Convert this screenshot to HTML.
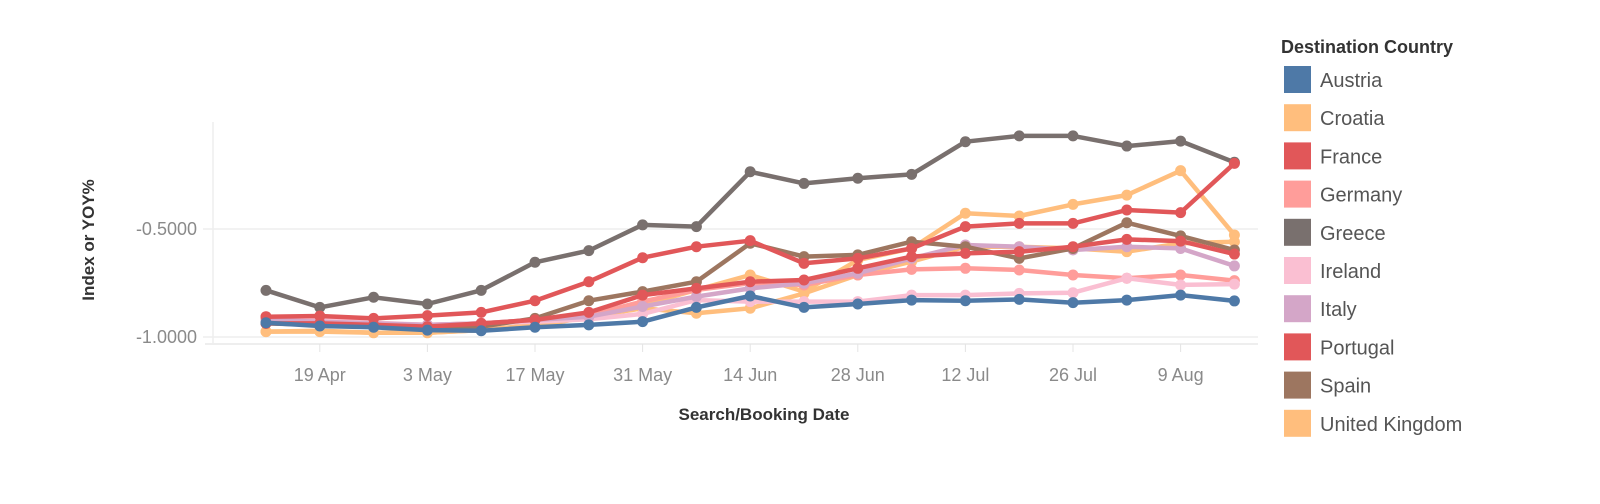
<!DOCTYPE html>
<html><head><meta charset="utf-8">
<style>
body{margin:0;background:#fff;width:1600px;height:504px;overflow:hidden;font-family:"Liberation Sans",sans-serif}
svg{display:block}
</style></head>
<body>
<svg id="chart" width="1600" height="504">
 <g id="grid"></g>
 <g id="axes"></g>
 <g id="series"></g>
 <g id="legend"></g>
</svg>
<script>
const dates = ["12 Apr","19 Apr","26 Apr","3 May","10 May","17 May","24 May","31 May","7 Jun","14 Jun","21 Jun","28 Jun","5 Jul","12 Jul","19 Jul","26 Jul","2 Aug","9 Aug","16 Aug"];
const tickLabels = ["19 Apr","3 May","17 May","31 May","14 Jun","28 Jun","12 Jul","26 Jul","9 Aug"];
const yTicks = [-0.5, -1.0];
const countries = ["Austria","Croatia","France","Germany","Greece","Ireland","Italy","Portugal","Spain","United Kingdom"];
const colors = ["#4e79a7","#ffbe7d","#e15759","#ff9d9a","#79706e","#fabfd2","#d4a6c8","#e15759","#9d7660","#ffbe7d"];
const austria = [-0.934,-0.949,-0.955,-0.968,-0.971,-0.955,-0.944,-0.929,-0.863,-0.810,-0.863,-0.847,-0.829,-0.832,-0.826,-0.841,-0.829,-0.806,-0.833];
const croatia = [-0.975,-0.971,-0.980,-0.980,-0.968,-0.944,-0.898,-0.852,-0.782,-0.713,-0.790,-0.644,-0.590,-0.427,-0.440,-0.386,-0.343,-0.230,-0.528];
const france = [-0.937,-0.937,-0.944,-0.952,-0.937,-0.921,-0.886,-0.806,-0.775,-0.744,-0.736,-0.682,-0.628,-0.613,-0.605,-0.582,-0.548,-0.556,-0.616];
const germany = [-0.914,-0.921,-0.937,-0.944,-0.937,-0.921,-0.898,-0.836,-0.782,-0.751,-0.759,-0.713,-0.687,-0.682,-0.690,-0.713,-0.728,-0.713,-0.739];
const greece = [-0.784,-0.863,-0.816,-0.847,-0.784,-0.654,-0.600,-0.481,-0.489,-0.235,-0.289,-0.265,-0.247,-0.096,-0.069,-0.069,-0.116,-0.093,-0.191];
const ireland = [-0.906,-0.921,-0.934,-0.944,-0.937,-0.929,-0.918,-0.893,-0.829,-0.836,-0.836,-0.836,-0.806,-0.806,-0.798,-0.795,-0.728,-0.759,-0.755];
const italy = [-0.921,-0.929,-0.937,-0.944,-0.937,-0.921,-0.906,-0.859,-0.813,-0.775,-0.751,-0.705,-0.636,-0.574,-0.582,-0.597,-0.582,-0.590,-0.671];
const portugal = [-0.906,-0.903,-0.914,-0.901,-0.886,-0.832,-0.744,-0.633,-0.582,-0.554,-0.659,-0.636,-0.590,-0.489,-0.474,-0.474,-0.412,-0.424,-0.196];
const spain = [-0.937,-0.944,-0.952,-0.960,-0.952,-0.914,-0.832,-0.790,-0.744,-0.566,-0.628,-0.620,-0.559,-0.582,-0.636,-0.590,-0.471,-0.532,-0.597];
const uk = [-0.975,-0.975,-0.980,-0.980,-0.968,-0.952,-0.906,-0.867,-0.890,-0.867,-0.798,-0.713,-0.651,-0.582,-0.582,-0.590,-0.605,-0.566,-0.559];

const NS="http://www.w3.org/2000/svg";
function mk(tag,attrs,parent){const e=document.createElementNS(NS,tag);for(const k in attrs)e.setAttribute(k,attrs[k]);parent.appendChild(e);return e;}
const X0=266, XSTEP=53.8, Y_HALF=229, PXU=216;
function xScale(i){return X0+i*XSTEP;}
function yScale(v){return Y_HALF+(-0.5-v)*PXU;}

const grid=document.getElementById('grid'), axes=document.getElementById('axes'), ser=document.getElementById('series'), leg=document.getElementById('legend');
const fr=mk('line',{x1:213,y1:122,x2:213,y2:344,stroke:'#eeeeee','stroke-width':1.5},grid);


const bl=mk('line',{x1:205,y1:344,x2:1258,y2:344,stroke:'#eeeeee','stroke-width':2},grid);


yTicks.forEach(v=>{
  const y=yScale(v);
  const g=mk('line',{x1:203,y1:y,x2:1258,y2:y,stroke:'#eeeeee','stroke-width':1.5},grid);
  
  
  const t=mk('text',{x:197,y:y+6,'text-anchor':'end','font-size':18,fill:'#8a8a8a'},axes);
  
  
  t.textContent=v.toFixed(4);
});
tickLabels.forEach(lbl=>{
  const i=dates.indexOf(lbl);const x=xScale(i);
  const tk=mk('line',{x1:x,y1:344,x2:x,y2:352,stroke:'#e4e4e4','stroke-width':1},axes);
  
  
  const t=mk('text',{x:x,y:381,'text-anchor':'middle','font-size':18,fill:'#8a8a8a'},axes);
  
  
  t.textContent=lbl;
});
const xt=mk('text',{x:764,y:420,'text-anchor':'middle','font-size':17,'font-weight':'bold',fill:'#333'},axes);


xt.textContent='Search/Booking Date';
const yt=mk('text',{x:0,y:0,'text-anchor':'middle','font-size':17,'font-weight':'bold',fill:'#333',transform:'translate(94,240) rotate(-90)'},axes);


yt.textContent='Index or YOY%';

const allSeries=[austria,croatia,france,germany,greece,ireland,italy,portugal,spain,uk];
const order=[4,9,1,3,5,6,8,2,7,0];
order.forEach(k=>{
  const vals=allSeries[k];
  const g=mk('g',{},ser);
  
  
  const pts=vals.map((v,i)=>xScale(i).toFixed(1)+','+yScale(v).toFixed(1)).join(' ');
  const pl=mk('polyline',{points:pts,fill:'none',stroke:colors[k],'stroke-width':4.5,'stroke-linejoin':'round'},g);
  
  
  vals.forEach((v,i)=>{
    const c=mk('circle',{cx:xScale(i),cy:yScale(v),r:5.5,fill:colors[k]},g);
    
    
  });
});

const lt=mk('text',{x:1281,y:53,'font-size':18,'font-weight':'bold',fill:'#333'},leg);


lt.textContent='Destination Country';
countries.forEach((c,k)=>{
  const y=66+k*38.2;
  const g=mk('g',{},leg);
  
  
  const r=mk('rect',{x:1284,y:y,width:27,height:27,fill:colors[k]},g);
  
  
  const t=mk('text',{x:1320,y:y+21,'font-size':20,fill:'#555'},g);
  
  
  t.textContent=c;
});
</script>
</body></html>
